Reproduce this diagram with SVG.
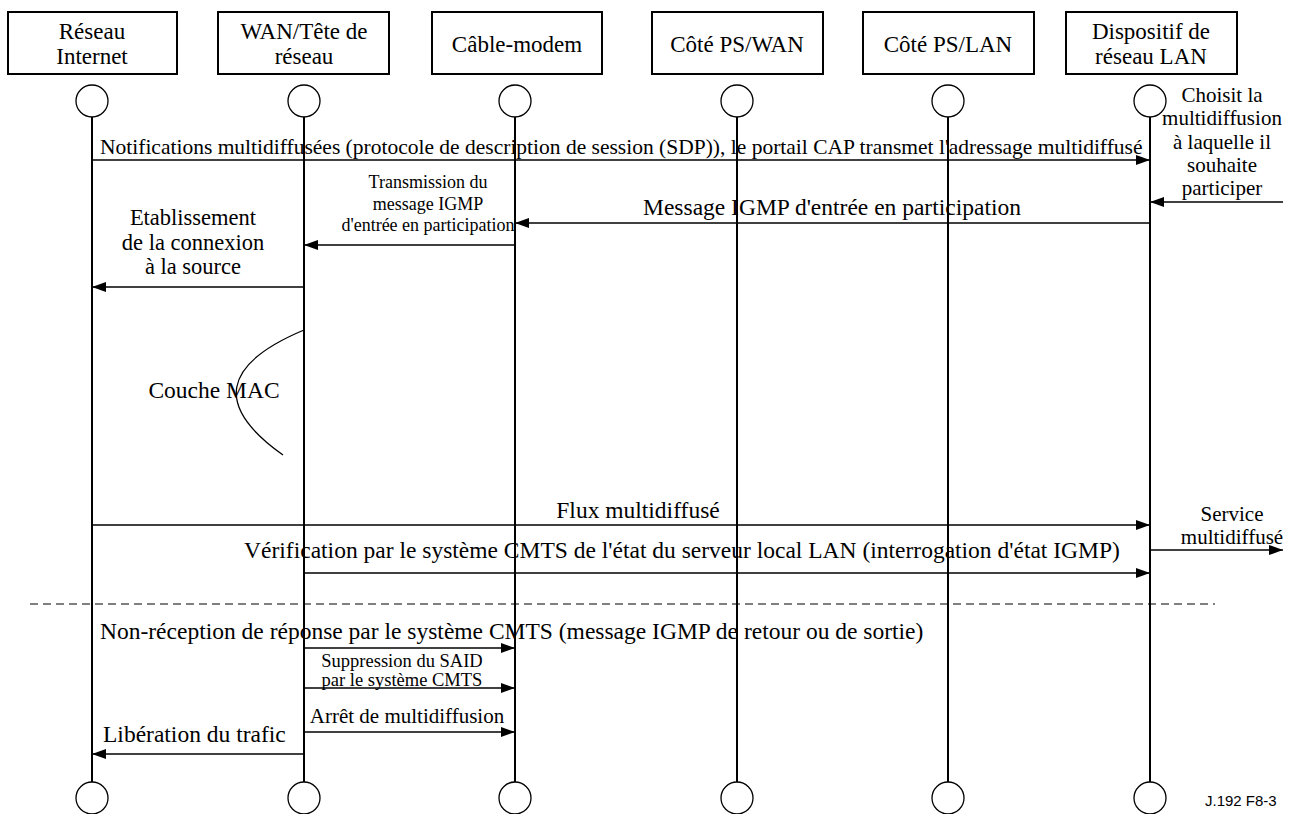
<svg xmlns="http://www.w3.org/2000/svg" width="1293" height="814" viewBox="0 0 1293 814">
  <defs>
    <marker id="arrow" viewBox="0 0 14 10" refX="14" refY="5" markerWidth="14" markerHeight="10" markerUnits="userSpaceOnUse" orient="auto">
      <path d="M0,0 L14,5 L0,10 Z" fill="#000"/>
    </marker>
    <style>
      .box { fill: #fff; stroke: #000; stroke-width: 2; }
      .end { fill: #fff; stroke: #000; stroke-width: 1.3; }
      .life { stroke: #000; stroke-width: 2; fill: none; }
      .msg { stroke: #000; stroke-width: 1.5; fill: none; marker-end: url(#arrow); }
      .t { font-family: "Liberation Serif", "Times New Roman", serif; fill: #000; }
      .hd { font-size: 23px; text-anchor: middle; }
      .lb { font-size: 23.5px; }
      .c { text-anchor: middle; }
    </style>
  </defs>

  <rect width="1293" height="814" fill="#fff"/>

  <!-- lifelines -->
  <g id="lifelines">
    <line class="life" x1="92" y1="117" x2="92" y2="782"/>
    <line class="life" x1="304" y1="117" x2="304" y2="782"/>
    <line class="life" x1="515" y1="117" x2="515" y2="782"/>
    <line class="life" x1="737" y1="117" x2="737" y2="782"/>
    <line class="life" x1="948" y1="117" x2="948" y2="782"/>
    <line class="life" x1="1150" y1="117" x2="1150" y2="782"/>
  </g>

  <!-- participants -->
  <g id="internet">
    <rect class="box" x="8" y="12" width="169" height="62"/>
    <text class="t hd" x="92" y="39">Réseau</text>
    <text class="t hd" x="92" y="64">Internet</text>
    <circle class="end" cx="92" cy="101" r="16"/>
    <circle class="end" cx="92" cy="798" r="16"/>
  </g>
  <g id="wan">
    <rect class="box" x="218" y="12" width="171" height="62"/>
    <text class="t hd" x="304" y="39">WAN/Tête de</text>
    <text class="t hd" x="304" y="64">réseau</text>
    <circle class="end" cx="304" cy="101" r="16"/>
    <circle class="end" cx="304" cy="798" r="16"/>
  </g>
  <g id="cablemodem">
    <rect class="box" x="432" y="12" width="170" height="62"/>
    <text class="t hd" x="517" y="52">Câble-modem</text>
    <circle class="end" cx="515" cy="101" r="16"/>
    <circle class="end" cx="515" cy="798" r="16"/>
  </g>
  <g id="ps-wan">
    <rect class="box" x="652" y="12" width="171" height="62"/>
    <text class="t hd" x="737" y="52">Côté PS/WAN</text>
    <circle class="end" cx="737" cy="101" r="16"/>
    <circle class="end" cx="737" cy="798" r="16"/>
  </g>
  <g id="ps-lan">
    <rect class="box" x="863" y="12" width="171" height="62"/>
    <text class="t hd" x="948" y="52">Côté PS/LAN</text>
    <circle class="end" cx="948" cy="101" r="16"/>
    <circle class="end" cx="948" cy="798" r="16"/>
  </g>
  <g id="lan-device">
    <rect class="box" x="1066" y="12" width="171" height="62"/>
    <text class="t hd" x="1151" y="39">Dispositif de</text>
    <text class="t hd" x="1151" y="64">réseau LAN</text>
    <circle class="end" cx="1150" cy="101" r="16"/>
    <circle class="end" cx="1150" cy="798" r="16"/>
  </g>

  <!-- messages -->
  <g id="connectors">
    <line class="msg" x1="92" y1="160" x2="1150" y2="160"/>
    <line class="msg" x1="1283" y1="202" x2="1150" y2="202"/>
    <line class="msg" x1="1150" y1="223" x2="515" y2="223"/>
    <line class="msg" x1="515" y1="245" x2="304" y2="245"/>
    <line class="msg" x1="304" y1="287" x2="92" y2="287"/>
    <path d="M304,330 Q180,382 283,455" fill="none" stroke="#000" stroke-width="1.3"/>
    <line class="msg" x1="92" y1="525" x2="1150" y2="525"/>
    <line class="msg" x1="1150" y1="550" x2="1283" y2="550"/>
    <line class="msg" x1="304" y1="573" x2="1150" y2="573"/>
    <line x1="30" y1="604" x2="1215" y2="604" stroke="#000" stroke-width="1" stroke-dasharray="8,5"/>
    <line class="msg" x1="304" y1="648" x2="515" y2="648"/>
    <line class="msg" x1="304" y1="688" x2="515" y2="688"/>
    <line class="msg" x1="304" y1="732" x2="515" y2="732"/>
    <line class="msg" x1="304" y1="754" x2="92" y2="754"/>
  </g>

  <!-- message labels -->
  <g id="labels">
    <text class="t" x="100" y="154" font-size="21.5">Notifications multidiffusées (protocole de description de session (SDP)), le portail CAP transmet l'adressage multidiffusé</text>
    <text class="t c" font-size="21" x="1222" y="102">Choisit la</text>
    <text class="t c" font-size="21" x="1222" y="125">multidiffusion</text>
    <text class="t c" font-size="21" x="1222" y="149">à laquelle il</text>
    <text class="t c" font-size="21" x="1222" y="172">souhaite</text>
    <text class="t c" font-size="21" x="1222" y="195">participer</text>
    <text class="t c" font-size="18" x="428" y="188">Transmission du</text>
    <text class="t c" font-size="18" x="428" y="210">message IGMP</text>
    <text class="t c" font-size="18" x="428" y="231">d'entrée en participation</text>
    <text class="t c lb" x="832" y="215">Message IGMP d'entrée en participation</text>
    <text class="t c" font-size="22.5" x="193" y="225">Etablissement</text>
    <text class="t c" font-size="22.5" x="193" y="250">de la connexion</text>
    <text class="t c" font-size="22.5" x="193" y="274">à la source</text>
    <text class="t c lb" x="214" y="398">Couche MAC</text>
    <text class="t c lb" x="638" y="518">Flux multidiffusé</text>
    <text class="t c" font-size="21" x="1232" y="521">Service</text>
    <text class="t c" font-size="21" x="1232" y="544">multidiffusé</text>
    <text class="t c lb" x="682" y="558">Vérification par le système CMTS de l'état du serveur local LAN (interrogation d'état IGMP)</text>
    <text class="t lb" x="100" y="639">Non-réception de réponse par le système CMTS (message IGMP de retour ou de sortie)</text>
    <text class="t c" font-size="18.5" x="402" y="667">Suppression du SAID</text>
    <text class="t c" font-size="18.5" x="402" y="686">par le système CMTS</text>
    <text class="t c" font-size="21" x="407" y="723">Arrêt de multidiffusion</text>
    <text class="t lb" x="103" y="742">Libération du trafic</text>
  </g>

  <text x="1205" y="806" font-family="Liberation Sans, Arial, sans-serif" font-size="15" fill="#000">J.192  F8-3</text>
</svg>
